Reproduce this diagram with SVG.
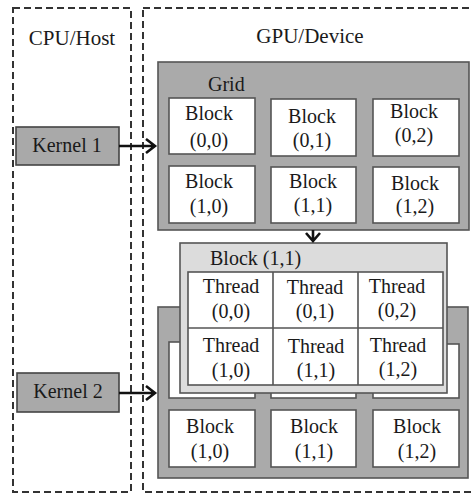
<svg xmlns="http://www.w3.org/2000/svg" width="473" height="495" viewBox="0 0 473 495">
<style>
text{font-family:"Liberation Serif","Times New Roman",serif;font-size:20px;fill:#1a1a1a;text-anchor:middle}
.h{font-size:21px}
.dash{fill:none;stroke:#333;stroke-width:2;stroke-dasharray:7 4}
.grid{fill:#aaaaaa;stroke:#555;stroke-width:1.6}
.blk{fill:#fff;stroke:#555;stroke-width:1.6}
.kern{fill:#a9a9a9;stroke:#444;stroke-width:1.6}
.over{fill:#dcdcdc;stroke:#555;stroke-width:1.6}
.arr{fill:none;stroke:#111;stroke-width:2.6}
</style>
<rect width="473" height="495" fill="#fff"/>
<g id="cpu-host">
<rect class="dash" x="13" y="8" width="118" height="484"/>
<text class="h" x="72" y="45">CPU/Host</text>
</g>
<g id="gpu-device">
<rect class="dash" x="143" y="8" width="340" height="484"/>
<text class="h" x="310" y="43">GPU/Device</text>
</g>
<g id="kernel1">
<rect class="kern" x="16" y="127" width="103" height="38"/>
<text x="67" y="152">Kernel 1</text>
</g>
<g id="kernel2">
<rect class="kern" x="17" y="373" width="102" height="39"/>
<text x="68" y="398">Kernel 2</text>
</g>
<g id="grid1">
<rect class="grid" x="158" y="62" width="311" height="168"/>
<text x="208" y="91" style="text-anchor:start">Grid</text>
<rect class="blk" x="169" y="98" width="86" height="56"/>
<text x="209" y="120">Block</text><text x="209" y="147">(0,0)</text>
<rect class="blk" x="271" y="99" width="85" height="57"/>
<text x="312" y="123">Block</text><text x="312" y="147">(0,1)</text>
<rect class="blk" x="373" y="99" width="86" height="57"/>
<text x="414" y="118">Block</text><text x="414" y="142">(0,2)</text>
<rect class="blk" x="169" y="166" width="86" height="57"/>
<text x="209" y="188">Block</text><text x="209" y="213">(1,0)</text>
<rect class="blk" x="271" y="167" width="85" height="56"/>
<text x="313" y="188">Block</text><text x="313" y="212">(1,1)</text>
<rect class="blk" x="373" y="167" width="86" height="56"/>
<text x="415" y="190">Block</text><text x="415" y="213">(1,2)</text>
</g>
<g id="grid2">
<rect class="grid" x="158" y="307" width="310" height="171"/>
<rect class="blk" x="169" y="342" width="86" height="56"/>
<rect class="blk" x="271" y="343" width="85" height="55"/>
<rect class="blk" x="373" y="344" width="86" height="54"/>
<rect class="blk" x="169" y="410" width="86" height="57"/>
<text x="210" y="433">Block</text><text x="210" y="458">(1,0)</text>
<rect class="blk" x="271" y="410" width="85" height="57"/>
<text x="314" y="433">Block</text><text x="314" y="458">(1,1)</text>
<rect class="blk" x="373" y="410" width="86" height="57"/>
<text x="417" y="433">Block</text><text x="417" y="458">(1,2)</text>
</g>
<g id="block11-detail">
<rect class="over" x="180" y="243" width="267" height="150"/>
<text x="210" y="265" style="text-anchor:start">Block (1,1)</text>
<rect class="blk" x="188" y="272" width="255" height="113"/>
<path d="M188,328H443M273,272V385M358,272V385" fill="none" stroke="#555" stroke-width="1.6"/>
<text x="231" y="293">Thread</text><text x="231" y="318">(0,0)</text>
<text x="315" y="294">Thread</text><text x="315" y="318">(0,1)</text>
<text x="397" y="293">Thread</text><text x="397" y="317">(0,2)</text>
<text x="231" y="352">Thread</text><text x="231" y="377">(1,0)</text>
<text x="316" y="353">Thread</text><text x="316" y="377">(1,1)</text>
<text x="398" y="352">Thread</text><text x="398" y="376">(1,2)</text>
</g>
<g id="connectors">
<path class="arr" d="M119,146H155M146,139L155,146L146,153"/>
<path class="arr" d="M119,393H155M146,386L155,393L146,400"/>
<path class="arr" d="M313,230V241M306,233L313,241L320,233"/>
</g>
</svg>
